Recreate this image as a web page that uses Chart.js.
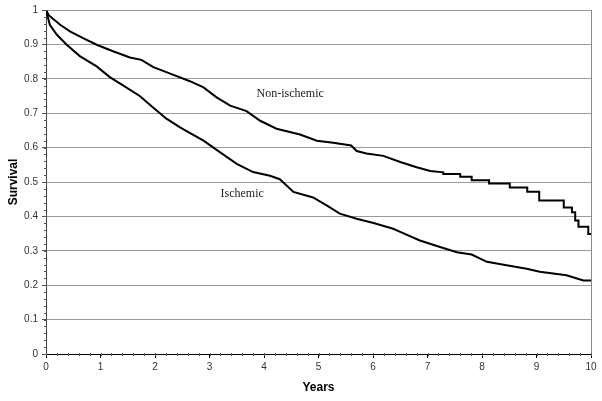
<!DOCTYPE html>
<html>
<head>
<meta charset="utf-8">
<script src="https://cdn.jsdelivr.net/npm/chart.js@4.4.1/dist/chart.umd.min.js"></script>
<style>
html,body{margin:0;padding:0;background:#fff;}
#wrap{width:602px;height:401px;position:relative;}
</style>
</head>
<body>
<div id="wrap"><canvas id="c" width="602" height="401"></canvas></div>
<script>
// Years (x) and survival (y)
const nonIschemicYears = [0,0.05,0.26,0.44,0.68,0.93,1.23,1.54,1.75,1.97,2.28,2.64,2.89,3.13,3.38,3.68,3.93,4.23,4.66,4.97,5.27,5.60,5.70,5.88,6.19,6.50,6.80,7.05,7.29,7.29,7.60,7.60,7.81,7.81,8.13,8.13,8.51,8.51,8.83,8.83,9.05,9.05,9.50,9.50,9.65,9.65,9.71,9.71,9.77,9.77,9.95,9.95,10];
const nonIschemicSurv  = [1.0,0.985,0.957,0.938,0.918,0.899,0.880,0.862,0.855,0.834,0.815,0.793,0.775,0.746,0.722,0.706,0.678,0.655,0.638,0.620,0.614,0.606,0.590,0.583,0.576,0.558,0.543,0.532,0.528,0.523,0.523,0.515,0.515,0.505,0.505,0.496,0.496,0.484,0.484,0.472,0.472,0.446,0.446,0.426,0.426,0.412,0.412,0.388,0.388,0.370,0.370,0.349,0.349];
const ischemicYears = [0,0.07,0.2,0.38,0.62,0.93,1.17,1.42,1.72,1.97,2.21,2.46,2.58,2.89,3.19,3.50,3.80,4.11,4.29,4.54,4.90,5.15,5.39,5.70,6.01,6.37,6.50,6.86,7.23,7.54,7.81,8.09,8.45,8.82,9.06,9.55,9.86,10];
const ischemicSurv  = [1.0,0.957,0.928,0.899,0.866,0.836,0.805,0.780,0.750,0.716,0.684,0.659,0.648,0.620,0.587,0.553,0.529,0.518,0.508,0.471,0.455,0.432,0.408,0.393,0.381,0.364,0.355,0.330,0.311,0.296,0.289,0.268,0.258,0.248,0.239,0.229,0.214,0.214];
const xTickValues = [0,1,2,3,4,5,6,7,8,9,10];
const yTickValues = [0,0.1,0.2,0.3,0.4,0.5,0.6,0.7,0.8,0.9,1];
const curveLabels = [
  {text:'Non-ischemic', x:4.48, y:0.755},
  {text:'Ischemic', x:3.60, y:0.466}
];

function pts(xs, ys){ return xs.map((x,i)=>({x:x, y:ys[i]})); }

const extras = {
  id:'extras',
  afterDraw(chart){
    const ctx = chart.ctx, xs = chart.scales.x, ys = chart.scales.y, a = chart.chartArea;
    ctx.save();
    // right border
    ctx.strokeStyle = '#888'; ctx.lineWidth = 1;
    ctx.beginPath(); ctx.moveTo(Math.round(a.right)+0.5, a.top); ctx.lineTo(Math.round(a.right)+0.5, a.bottom); ctx.stroke();
    // minor ticks
    ctx.strokeStyle = '#555';
    for (let v = 0; v <= 1.0001; v += 0.02) {
      const y = Math.round(ys.getPixelForValue(v)) + 0.5;
      ctx.beginPath(); ctx.moveTo(a.left - 2, y); ctx.lineTo(a.left + 1, y); ctx.stroke();
    }
    for (let v = 0; v <= 10.0001; v += 0.2) {
      const x = Math.round(xs.getPixelForValue(v)) + 0.5;
      ctx.beginPath(); ctx.moveTo(x, a.bottom - 1); ctx.lineTo(x, a.bottom + 2); ctx.stroke();
    }
    // curve labels
    ctx.fillStyle = '#222';
    ctx.font = '12px "Liberation Serif", "Times New Roman", serif';
    ctx.textAlign = 'center'; ctx.textBaseline = 'middle';
    curveLabels.forEach(l => ctx.fillText(l.text, xs.getPixelForValue(l.x), ys.getPixelForValue(l.y)));
    ctx.restore();
  }
};

new Chart(document.getElementById('c'), {
  type: 'line',
  data: {
    datasets: [
      {label:'Non-ischemic', data: pts(nonIschemicYears, nonIschemicSurv), borderColor:'#000', borderWidth:2, pointRadius:0, fill:false, tension:0},
      {label:'Ischemic', data: pts(ischemicYears, ischemicSurv), borderColor:'#000', borderWidth:2, pointRadius:0, fill:false, tension:0}
    ]
  },
  options: {
    responsive:false, animation:false, devicePixelRatio:1,
    layout:{padding:{left:0, top:8, right:11, bottom:0}},
    plugins:{legend:{display:false}, tooltip:{enabled:false}},
    scales:{
      x:{
        type:'linear', min:0, max:10,
        afterBuildTicks(s){ s.ticks = xTickValues.map(v=>({value:v})); },
        afterFit(s){ s.height = 47; },
        grid:{drawOnChartArea:false, tickLength:4, color:'#000'},
        border:{color:'#000', width:1},
        ticks:{color:'#333', font:{family:'Arial, "Liberation Sans", sans-serif', size:10}, padding:3, maxRotation:0},
        title:{display:true, text:'Years', color:'#000', font:{family:'Arial, "Liberation Sans", sans-serif', size:12, weight:'bold'}, padding:{top:0,bottom:6}}
      },
      y:{
        type:'linear', min:0, max:1,
        afterBuildTicks(s){ s.ticks = yTickValues.map(v=>({value:v})); },
        afterFit(s){ s.width = 46; },
        grid:{color:'#9a9a9a', tickLength:4, tickColor:'#555'},
        border:{color:'#444', width:1},
        ticks:{color:'#333', font:{family:'Arial, "Liberation Sans", sans-serif', size:10}, padding:4, callback:v=>String(Math.round(v*10)/10)},
        title:{display:true, text:'Survival', color:'#000', font:{family:'Arial, "Liberation Sans", sans-serif', size:12, weight:'bold'}, padding:{top:6,bottom:0}}
      }
    }
  },
  plugins:[extras]
});
</script>
</body>
</html>
